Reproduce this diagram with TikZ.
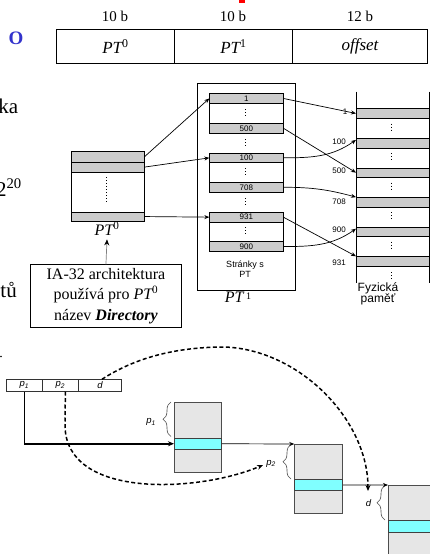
\documentclass[tikz,border=0pt]{standalone}
\usepackage{fontspec}
\setmainfont{Liberation Serif}
\setsansfont{Liberation Sans}
\usetikzlibrary{arrows.meta,decorations.pathreplacing,calc}

\definecolor{rowgrey}{HTML}{CCCCCC}
\definecolor{pagegrey}{HTML}{E6E6E6}
\definecolor{entrycyan}{HTML}{80FFFF}
\definecolor{titleblue}{HTML}{3333CC}
\definecolor{edgegrey}{HTML}{4D4D4D}

\newcommand{\setfs}[1]{\fontsize{#1}{#1}\selectfont}

\tikzset{
  cellbox/.style 2 args={draw, inner sep=0pt, anchor=north west,
    minimum width=#1pt, minimum height=#2pt},
  greyrow/.style={fill=rowgrey, line width=0.7pt, font=\sffamily\setfs{8}},
  tblframe/.style={fill=white, line width=0.8pt},
  ptrlink/.style={line width=0.7pt, -{Stealth[length=5pt,width=4pt]}},
  vdots/.style={line width=1pt, dash pattern=on 1pt off 2pt},
  memlbl/.style={font=\sffamily\setfs{8}, anchor=east, inner sep=0pt},
  pagebox/.style={fill=pagegrey, draw=edgegrey, line width=0.8pt},
  entrybox/.style={fill=entrycyan, draw=black!75, line width=0.8pt},
  brc/.style={draw=black!70, line width=0.6pt,
    decorate, decoration={brace, amplitude=8pt}},
  blbl/.style={font=\sffamily\itshape\setfs{9.5}, inner sep=0pt},
  addr/.style={draw=black!80, line width=0.8pt, font=\sffamily\itshape\setfs{9.5}},
  dashlink/.style={line width=1.5pt, dash pattern=on 4pt off 2.5pt,
    -{Stealth[length=6pt,width=5pt]}},
  sidetext/.style={font=\setfs{21}, inner sep=0pt}
}

\begin{document}
\begin{tikzpicture}[x=1pt,y=-1pt]
\useasboundingbox (0,0) rectangle (430,554);
\clip (0,0) rectangle (430,554);

% fragments of the slide text at the left edge and top
\fill[red] (239,0) rectangle (245,2.5);
\node[sidetext, text=titleblue, font=\bfseries\setfs{19}] (so) at (16,38.5) {O};
\node[sidetext, anchor=base east] (ska) at (18.5,113.3) {ka};
\node[sidetext, anchor=base east] (spow) at (22,196) {2\textsuperscript{20}};
\node[sidetext, anchor=base east] (stu) at (17,297) {tů};
\fill (1,356.5) circle (0.8);

% address format: PT0 | PT1 | offset
\node[cellbox={118}{34}, line width=1pt, font=\setfs{17}] (f0) at (56,29)
  {{\itshape PT}\textsuperscript{0}};
\node[cellbox={118}{34}, line width=1pt, font=\setfs{17}] (f1) at (174,29)
  {{\itshape PT}\textsuperscript{1}};
\node[cellbox={135}{34}, line width=1pt, font=\setfs{17}\itshape] (f2) at (292,29)
  {offset};
\node[font=\setfs{15}] (h0) at (115,16.5) {10 b};
\node[font=\setfs{15}] (h1) at (233,16.5) {10 b};
\node[font=\setfs{15}] (h2) at (360,16.5) {12 b};

% first level table (directory)
\node[cellbox={73.3}{70}, tblframe] (dir) at (70.7,150.7) {};
\node[cellbox={73.3}{11}, greyrow] (d1) at (70.7,150.7) {};
\node[cellbox={73.3}{10}, greyrow] (d2) at (70.7,161.7) {};
\node[cellbox={73.3}{9}, greyrow] (d3) at (70.7,211.7) {};
\draw[vdots] (106,177) -- (106,202);
\node[font=\setfs{16}] (dirlbl) at (107,229) {{\itshape PT}\textsuperscript{0}};

\node[cellbox={151}{62.4}, line width=0.9pt, align=center,
  font=\fontsize{16}{20.5}\selectfont] (ia) at (30,264.3)
  {IA-32 architektura\\používá pro {\itshape PT}\textsuperscript{0}\\název \textbf{\itshape Directory}};
\draw[line width=0.7pt, draw=gray, -{Stealth[length=6pt,width=5pt,black]}]
  (ia.north) -- (dirlbl.south);

% second level tables
\node[cellbox={98}{207}, tblframe] (pt1) at (197,83) {};
\node[cellbox={73.4}{39.4}, tblframe] (g1) at (209.3,93.3) {};
\node[cellbox={73.4}{39}, tblframe] (g2) at (209.3,152.7) {};
\node[cellbox={73.4}{39}, tblframe] (g3) at (209.3,212) {};
\node[cellbox={73.4}{9.6}, greyrow] (p1) at (209.3,93.3) {1};
\node[cellbox={73.4}{9.6}, greyrow] (p500) at (209.3,123.1) {500};
\node[cellbox={73.4}{9.6}, greyrow] (p100) at (209.3,152.7) {100};
\node[cellbox={73.4}{9.6}, greyrow] (p708) at (209.3,182.1) {708};
\node[cellbox={73.4}{9.6}, greyrow] (p931) at (209.3,212) {931};
\node[cellbox={73.4}{9.6}, greyrow] (p900) at (209.3,241.4) {900};
\draw[vdots] (245,109) -- (245,117);
\draw[vdots] (245,139) -- (245,147);
\draw[vdots] (245,168) -- (245,176);
\draw[vdots] (245,198) -- (245,206);
\draw[vdots] (245,227) -- (245,235);
\node[font=\sffamily\setfs{9}, align=center] (pglbl) at (245,269.5)
  {Stránky s\\[1pt]PT};
\node[font=\setfs{16}] (pt1lbl) at (238,297)
  {{\itshape PT}\,\raisebox{3pt}{\setfs{10}1}};

% physical memory
\draw[line width=0.8pt] (356,91.7) -- (356,283);
\draw[line width=0.8pt] (429.3,91.7) -- (429.3,283);
\node[cellbox={73.3}{9.6}, greyrow] (m1) at (356,108.3) {};
\node[cellbox={73.3}{9.6}, greyrow] (m100) at (356,137.9) {};
\node[cellbox={73.3}{9.6}, greyrow] (m500) at (356,167.5) {};
\node[cellbox={73.3}{9.6}, greyrow] (m708) at (356,197.1) {};
\node[cellbox={73.3}{9.6}, greyrow] (m900) at (356,226.7) {};
\node[cellbox={73.3}{9.6}, greyrow] (m931) at (356,256.3) {};
\foreach \y in {123.5,153,182.5,212,241.5,272} \draw[vdots] (391,\y) -- (391,\y+8);
\node[memlbl] (l1) at (347.5,111.7) {1};
\node[memlbl] (l100) at (346,141.7) {100};
\node[memlbl] (l500) at (346,171) {500};
\node[memlbl] (l708) at (346,201.5) {708};
\node[memlbl] (l900) at (346,230) {900};
\node[memlbl] (l931) at (346,262.5) {931};
\node[font=\sffamily\setfs{12}] (fyz) at (378,288) {Fyzická};
\node[font=\sffamily\setfs{12}] (pam) at (378,299.5) {paměť};

% references between the levels
\draw[ptrlink] (d1.east) -- (p1.west);
\draw[ptrlink] (d2.east) -- (p100.west);
\draw[ptrlink] (d3.east) -- (p931.west);
\draw[ptrlink] (p1.east) -- (m1.west);
\draw[ptrlink] (p500.east) -- (m500.west);
\draw[ptrlink] (p931.east) -- (m931.north west);
\draw[ptrlink] (p100.east) to[out=0, in=215] ([yshift=-2pt]m100.north west);
\draw[ptrlink] (p708.east) to[out=0, in=165] (m708.north west);
\draw[ptrlink] (p900.east) to[out=0, in=215] ([yshift=-2pt]m900.north west);

% two level translation, lower scheme
\node[cellbox={35.7}{11.4}, addr] (a1) at (6,379.3) {p\textsubscript{1}};
\node[cellbox={36.6}{11.4}, addr] (a2) at (41.7,379.3) {p\textsubscript{2}};
\node[cellbox={42.4}{11.4}, addr] (a3) at (78.3,379.3) {d};

\node[cellbox={47}{70}, pagebox] (t1) at (174,401.7) {};
\node[cellbox={47}{11.3}, entrybox] (cy1) at (174,437.7) {};
\node[cellbox={48}{69.3}, pagebox] (t2) at (294.3,444) {};
\node[cellbox={48}{10.7}, entrybox] (cy2) at (294.3,479.3) {};
\node[cellbox={48}{75}, pagebox] (t3) at (388,485) {};
\node[cellbox={48}{12.5}, entrybox] (cy3) at (388,519.5) {};

\draw[brc] (171,436.5) -- (171,402);
\node[blbl] (b1) at (151,422) {p\textsubscript{1}};
\draw[brc] (291,479) -- (291,444.5);
\node[blbl] (b2) at (271,463.5) {p\textsubscript{2}};
\draw[brc] (385,520) -- (385,485.5);
\node[blbl] (b3) at (368.5,503.5) {d};

\draw[line width=1.5pt, -{Stealth[length=6pt,width=5pt]}] (a1.south) |- (cy1.west);
\draw[ptrlink] (cy1.east) -- (t2.north west);
\draw[ptrlink] (cy2.east) -- (t3.north west);
\draw[dashlink] ([xshift=5pt]a2.south) -- (65,425)
  .. controls (65,500) and (200,492) .. (263,465);
\draw[dashlink] ([xshift=2pt]a3.north)
  .. controls (135,358) and (175,347) .. (225,347)
  .. controls (300,350) and (368,420) .. (368,491);
\end{tikzpicture}
\end{document}
